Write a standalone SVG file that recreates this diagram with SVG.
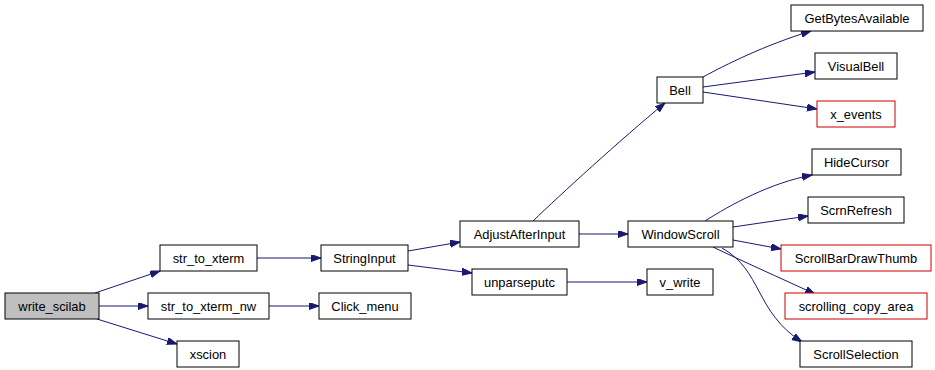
<svg xmlns="http://www.w3.org/2000/svg" width="935" height="370" viewBox="0 0 935 370">
<style>
.n rect{fill:#fff;stroke:#000;stroke-width:1}
.n.r rect{stroke:#cc0000}
.n.g rect{fill:#bfbfbf}
.n text{font-family:"Liberation Sans",Arial,sans-serif;font-size:12.9px;text-anchor:middle;fill:#000}
#edges path{fill:none;stroke:#191970;stroke-width:1;marker-end:url(#ah)}
</style>
<defs>
<marker id="ah" markerUnits="userSpaceOnUse" markerWidth="11" markerHeight="8" refX="10" refY="3.5" orient="auto">
<path d="M0,0 L10,3.5 L0,7 z" fill="#191970" stroke="#191970"/>
</marker>
</defs>
<rect width="935" height="370" fill="#fff"/>
<g id="edges">
<path d="M95,293 L160,271"/>
<path d="M99,306 L148,306"/>
<path d="M97,319 L177,344"/>
<path d="M257,258 L321,258"/>
<path d="M269,306 L319,306"/>
<path d="M408,251 L460,242"/>
<path d="M408,265 L472,273"/>
<path d="M579,234 L628,234"/>
<path d="M533,221 C560,195 620,140 665,103"/>
<path d="M567,282 L647,282"/>
<path d="M703,77 C725,65 765,45 811,31"/>
<path d="M703,87 L815,72"/>
<path d="M703,92 L817,109"/>
<path d="M705,221 C730,205 770,183 812,175"/>
<path d="M733,227 L808,216"/>
<path d="M733,240 L781,249"/>
<path d="M713,247 C740,260 780,278 815,294"/>
<path d="M722,248 C762,270 755,312 802,342"/>
</g>
<g id="write_scilab" class="n g"><rect x="5" y="293" width="94" height="26"/><text x="52" y="310.5">write_scilab</text></g>
<g id="str_to_xterm" class="n"><rect x="160" y="245" width="97" height="26"/><text x="208.5" y="262.5">str_to_xterm</text></g>
<g id="str_to_xterm_nw" class="n"><rect x="148" y="293" width="121" height="26"/><text x="208.5" y="310.5">str_to_xterm_nw</text></g>
<g id="xscion" class="n"><rect x="177" y="341" width="62" height="26"/><text x="208" y="358.5">xscion</text></g>
<g id="StringInput" class="n"><rect x="321" y="245" width="87" height="26"/><text x="364.5" y="262.5">StringInput</text></g>
<g id="Click_menu" class="n"><rect x="319" y="293" width="92" height="26"/><text x="365" y="310.5">Click_menu</text></g>
<g id="AdjustAfterInput" class="n"><rect x="460" y="221" width="119" height="26"/><text x="519.5" y="238.5">AdjustAfterInput</text></g>
<g id="unparseputc" class="n"><rect x="472" y="269" width="95" height="26"/><text x="519.5" y="286.5">unparseputc</text></g>
<g id="Bell" class="n"><rect x="657" y="77" width="46" height="26"/><text x="680" y="94.5">Bell</text></g>
<g id="WindowScroll" class="n"><rect x="628" y="221" width="105" height="26"/><text x="680.5" y="238.5">WindowScroll</text></g>
<g id="v_write" class="n"><rect x="647" y="269" width="66" height="26"/><text x="680" y="286.5">v_write</text></g>
<g id="GetBytesAvailable" class="n"><rect x="791" y="5" width="132" height="26"/><text x="857" y="22.5">GetBytesAvailable</text></g>
<g id="VisualBell" class="n"><rect x="815" y="53" width="82" height="26"/><text x="856" y="70.5">VisualBell</text></g>
<g id="x_events" class="n r"><rect x="817" y="101" width="78" height="26"/><text x="856" y="118.5">x_events</text></g>
<g id="HideCursor" class="n"><rect x="812" y="149" width="89" height="26"/><text x="856.5" y="166.5">HideCursor</text></g>
<g id="ScrnRefresh" class="n"><rect x="808" y="197" width="96" height="26"/><text x="856" y="214.5">ScrnRefresh</text></g>
<g id="ScrollBarDrawThumb" class="n r"><rect x="781" y="245" width="150" height="26"/><text x="856" y="262.5">ScrollBarDrawThumb</text></g>
<g id="scrolling_copy_area" class="n r"><rect x="785" y="293" width="142" height="26"/><text x="856" y="310.5">scrolling_copy_area</text></g>
<g id="ScrollSelection" class="n"><rect x="800" y="341" width="112" height="26"/><text x="856" y="358.5">ScrollSelection</text></g>
</svg>
